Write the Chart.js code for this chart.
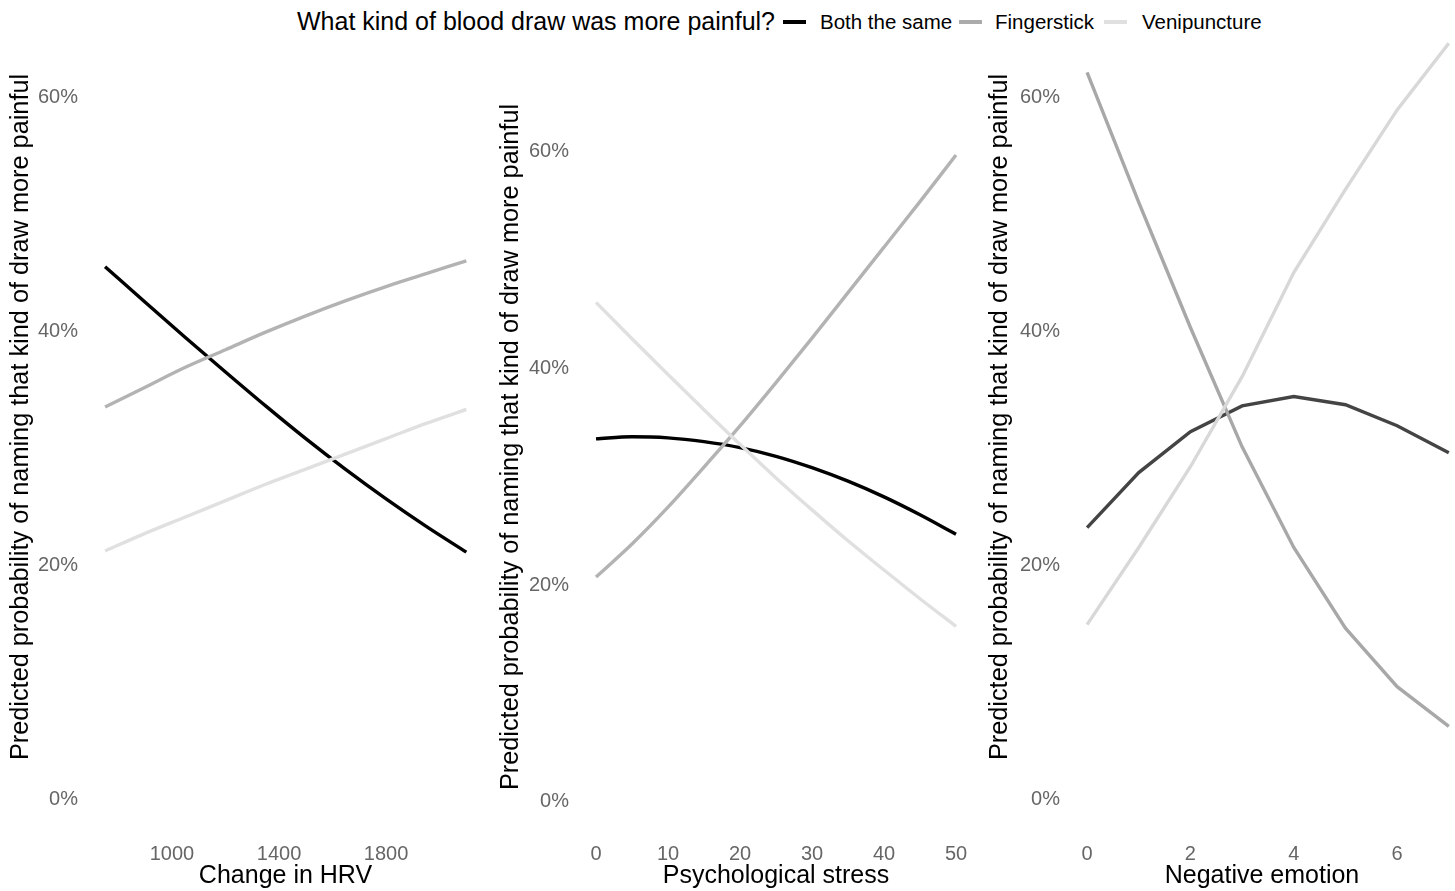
<!DOCTYPE html>
<html>
<head>
<meta charset="utf-8">
<script src="https://cdn.jsdelivr.net/npm/chart.js@4.4.1/dist/chart.umd.min.js"></script>
<style>
  html, body { margin: 0; padding: 0; background: #fff; }
  body { width: 1455px; height: 891px; position: relative; overflow: hidden; font-family: "Liberation Sans", Arial, sans-serif; }
  canvas { position: absolute; top: 0; }
  .lg { position: absolute; white-space: nowrap; line-height: 1; }
  .lg-title { font-size: 25px; color: #000; top: 9px; left: 297px; }
  .lg-item { font-size: 20.5px; color: #000; top: 12px; }
  .sw { position: absolute; top: 20px; width: 23px; height: 4px; }
</style>
</head>
<body>
<div class="lg lg-title">What kind of blood draw was more painful?</div>
<div class="sw" style="left:783px;background:#000000"></div>
<div class="lg lg-item" style="left:820px">Both the same</div>
<div class="sw" style="left:959px;background:#ababab"></div>
<div class="lg lg-item" style="left:995px">Fingerstick</div>
<div class="sw" style="left:1104px;background:#e0e0e0"></div>
<div class="lg lg-item" style="left:1142px">Venipuncture</div>

<canvas id="c1" width="486" height="891" style="left:0px"></canvas>
<canvas id="c2" width="486" height="891" style="left:490px"></canvas>
<canvas id="c3" width="476" height="891" style="left:979px"></canvas>

<script>
// series labels
const groups = ['Both the same', 'Fingerstick', 'Venipuncture'];
const yTitle = 'Predicted probability of naming that kind of draw more painful';
const yTicks = [0, 20, 40, 60];

// panel 1: change in HRV
const hrvX = [750, 900, 1050, 1200, 1350, 1500, 1650, 1800, 1950, 2100];
const hrvBoth = [45.5, 42.45, 39.45, 36.5, 33.6, 30.8, 28.15, 25.65, 23.3, 21.1];
const hrvFinger = [33.5, 35.2, 36.9, 38.4, 39.9, 41.3, 42.6, 43.8, 44.9, 46.0];
const hrvVeni = [21.2, 22.7, 24.1, 25.5, 26.9, 28.2, 29.5, 30.8, 32.1, 33.3];
const hrvTicks = [1000, 1400, 1800];

// panel 2: psychological stress
const stressX = [0, 5, 10, 15, 20, 25, 30, 35, 40, 45, 50];
const stressBoth = [33.5, 33.7, 33.6, 33.25, 32.7, 31.9, 30.85, 29.6, 28.15, 26.5, 24.7];
const stressFinger = [20.75, 23.8, 27.2, 30.9, 34.7, 38.7, 42.8, 47.0, 51.2, 55.4, 59.7];
const stressVeni = [46.1, 42.75, 39.45, 36.2, 33.0, 29.9, 26.95, 24.1, 21.4, 18.75, 16.2];
const stressTicks = [0, 10, 20, 30, 40, 50];

// panel 3: negative emotion
const emoX = [0, 1, 2, 3, 4, 5, 6, 7];
const emoBoth = [23.2, 27.9, 31.4, 33.6, 34.4, 33.7, 31.9, 29.6];
const emoFinger = [62.1, 51.0, 40.3, 30.1, 21.5, 14.6, 9.6, 6.2];
const emoVeni = [14.9, 21.5, 28.4, 36.1, 45.0, 52.1, 58.9, 64.6];
const emoTicks = [0, 2, 4, 6];

const FONT = '"Liberation Sans", Arial, sans-serif';
const pts = (xs, ys) => xs.map((x, i) => ({ x, y: ys[i] }));

function makePanel(id, cfg) {
  const ds = cfg.series.map((ys, i) => ({
    label: groups[i],
    data: pts(cfg.x, ys),
    borderColor: cfg.colors[i],
    backgroundColor: cfg.colors[i],
    borderWidth: 3.4,
    pointRadius: 0,
    tension: cfg.smooth ? 0.4 : 0,
    cubicInterpolationMode: cfg.smooth ? 'monotone' : 'default',
    order: 3 - i,
  }));
  new Chart(document.getElementById(id), {
    type: 'line',
    data: { datasets: ds },
    options: {
      responsive: false,
      animation: false,
      devicePixelRatio: 1,
      layout: { padding: { top: cfg.top, right: cfg.right, left: 0, bottom: 0 } },
      plugins: { legend: { display: false }, tooltip: { enabled: false } },
      scales: {
        x: {
          type: 'linear',
          min: cfg.xmin, max: cfg.xmax,
          grid: { display: false, drawTicks: false },
          border: { display: false },
          afterBuildTicks: (s) => { s.ticks = cfg.xticks.map(v => ({ value: v })); },
          afterFit: (s) => { s.height = 61; s.paddingLeft = 0; s.paddingRight = 0; },
          ticks: { color: '#666666', font: { family: FONT, size: 20 }, padding: 12, maxRotation: 0, callback: (v) => String(v) },
          title: { display: true, text: cfg.xtitle, color: '#000', font: { family: FONT, size: 25 }, padding: { top: 0, bottom: 0 } },
        },
        y: {
          type: 'linear',
          min: cfg.ymin, max: cfg.ymax,
          grid: { display: false, drawTicks: false },
          border: { display: false },
          afterBuildTicks: (s) => { s.ticks = yTicks.map(v => ({ value: v })); },
          afterFit: (s) => { s.width = cfg.yw; s.paddingTop = 0; s.paddingBottom = 0; },
          ticks: { color: '#666666', font: { family: FONT, size: 20 }, padding: 9, callback: (v) => v + '%' },
          title: { display: true, text: yTitle, color: '#000', font: { family: FONT, size: 25.3 }, padding: { top: 6, bottom: 0 } },
        },
      },
    },
  });
}

makePanel('c1', {
  x: hrvX, series: [hrvBoth, hrvFinger, hrvVeni], smooth: true,
  colors: ['#000000', '#b3b3b3', '#e0e0e0'],
  xmin: 682.5, xmax: 2166, xticks: hrvTicks, xtitle: 'Change in HRV',
  ymin: -2.65, ymax: 67.95, top: 4, right: 2, yw: 87,
});
makePanel('c2', {
  x: stressX, series: [stressBoth, stressFinger, stressVeni], smooth: true,
  colors: ['#000000', '#b3b3b3', '#e0e0e0'],
  xmin: -2.5, xmax: 52.5, xticks: stressTicks, xtitle: 'Psychological stress',
  ymin: -2.59, ymax: 68.1, top: 64, right: 2, yw: 88,
});
makePanel('c3', {
  x: emoX, series: [emoBoth, emoFinger, emoVeni], smooth: false,
  colors: ['#444444', '#a8a8a8', '#d8d8d8'],
  xmin: -0.35, xmax: 7.12, xticks: emoTicks, xtitle: 'Negative emotion',
  ymin: -2.65, ymax: 67.95, top: 4, right: 0, yw: 90,
});
</script>
</body>
</html>
